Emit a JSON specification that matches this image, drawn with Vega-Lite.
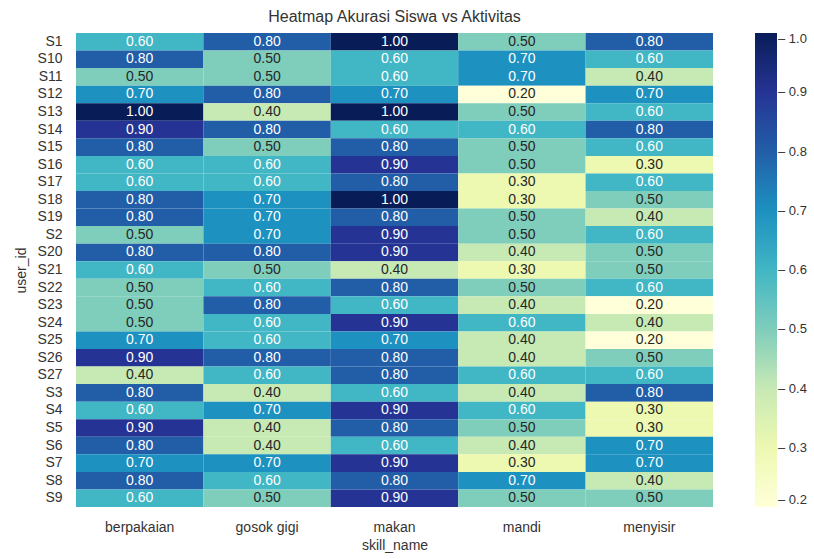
{
  "$schema": "https://vega.github.io/schema/vega-lite/v6.json",
  "width": 637,
  "height": 474,
  "autosize": {"type": "none"},
  "padding": {"left": 76, "top": 33, "right": 101, "bottom": 52},
  "background": "white",
  "title": {
    "text": "Heatmap Akurasi Siswa vs Aktivitas",
    "font": "Liberation Sans",
    "fontSize": 16,
    "fontWeight": "normal",
    "color": "#333333",
    "offset": 8
  },
  "config": {
    "view": {"stroke": null},
    "font": "Liberation Sans"
  },
  "data": {
    "values": [
      {"user_id": "S1", "skill_name": "berpakaian", "accuracy": 0.6},
      {"user_id": "S1", "skill_name": "gosok gigi", "accuracy": 0.8},
      {"user_id": "S1", "skill_name": "makan", "accuracy": 1.0},
      {"user_id": "S1", "skill_name": "mandi", "accuracy": 0.5},
      {"user_id": "S1", "skill_name": "menyisir", "accuracy": 0.8},
      {"user_id": "S10", "skill_name": "berpakaian", "accuracy": 0.8},
      {"user_id": "S10", "skill_name": "gosok gigi", "accuracy": 0.5},
      {"user_id": "S10", "skill_name": "makan", "accuracy": 0.6},
      {"user_id": "S10", "skill_name": "mandi", "accuracy": 0.7},
      {"user_id": "S10", "skill_name": "menyisir", "accuracy": 0.6},
      {"user_id": "S11", "skill_name": "berpakaian", "accuracy": 0.5},
      {"user_id": "S11", "skill_name": "gosok gigi", "accuracy": 0.5},
      {"user_id": "S11", "skill_name": "makan", "accuracy": 0.6},
      {"user_id": "S11", "skill_name": "mandi", "accuracy": 0.7},
      {"user_id": "S11", "skill_name": "menyisir", "accuracy": 0.4},
      {"user_id": "S12", "skill_name": "berpakaian", "accuracy": 0.7},
      {"user_id": "S12", "skill_name": "gosok gigi", "accuracy": 0.8},
      {"user_id": "S12", "skill_name": "makan", "accuracy": 0.7},
      {"user_id": "S12", "skill_name": "mandi", "accuracy": 0.2},
      {"user_id": "S12", "skill_name": "menyisir", "accuracy": 0.7},
      {"user_id": "S13", "skill_name": "berpakaian", "accuracy": 1.0},
      {"user_id": "S13", "skill_name": "gosok gigi", "accuracy": 0.4},
      {"user_id": "S13", "skill_name": "makan", "accuracy": 1.0},
      {"user_id": "S13", "skill_name": "mandi", "accuracy": 0.5},
      {"user_id": "S13", "skill_name": "menyisir", "accuracy": 0.6},
      {"user_id": "S14", "skill_name": "berpakaian", "accuracy": 0.9},
      {"user_id": "S14", "skill_name": "gosok gigi", "accuracy": 0.8},
      {"user_id": "S14", "skill_name": "makan", "accuracy": 0.6},
      {"user_id": "S14", "skill_name": "mandi", "accuracy": 0.6},
      {"user_id": "S14", "skill_name": "menyisir", "accuracy": 0.8},
      {"user_id": "S15", "skill_name": "berpakaian", "accuracy": 0.8},
      {"user_id": "S15", "skill_name": "gosok gigi", "accuracy": 0.5},
      {"user_id": "S15", "skill_name": "makan", "accuracy": 0.8},
      {"user_id": "S15", "skill_name": "mandi", "accuracy": 0.5},
      {"user_id": "S15", "skill_name": "menyisir", "accuracy": 0.6},
      {"user_id": "S16", "skill_name": "berpakaian", "accuracy": 0.6},
      {"user_id": "S16", "skill_name": "gosok gigi", "accuracy": 0.6},
      {"user_id": "S16", "skill_name": "makan", "accuracy": 0.9},
      {"user_id": "S16", "skill_name": "mandi", "accuracy": 0.5},
      {"user_id": "S16", "skill_name": "menyisir", "accuracy": 0.3},
      {"user_id": "S17", "skill_name": "berpakaian", "accuracy": 0.6},
      {"user_id": "S17", "skill_name": "gosok gigi", "accuracy": 0.6},
      {"user_id": "S17", "skill_name": "makan", "accuracy": 0.8},
      {"user_id": "S17", "skill_name": "mandi", "accuracy": 0.3},
      {"user_id": "S17", "skill_name": "menyisir", "accuracy": 0.6},
      {"user_id": "S18", "skill_name": "berpakaian", "accuracy": 0.8},
      {"user_id": "S18", "skill_name": "gosok gigi", "accuracy": 0.7},
      {"user_id": "S18", "skill_name": "makan", "accuracy": 1.0},
      {"user_id": "S18", "skill_name": "mandi", "accuracy": 0.3},
      {"user_id": "S18", "skill_name": "menyisir", "accuracy": 0.5},
      {"user_id": "S19", "skill_name": "berpakaian", "accuracy": 0.8},
      {"user_id": "S19", "skill_name": "gosok gigi", "accuracy": 0.7},
      {"user_id": "S19", "skill_name": "makan", "accuracy": 0.8},
      {"user_id": "S19", "skill_name": "mandi", "accuracy": 0.5},
      {"user_id": "S19", "skill_name": "menyisir", "accuracy": 0.4},
      {"user_id": "S2", "skill_name": "berpakaian", "accuracy": 0.5},
      {"user_id": "S2", "skill_name": "gosok gigi", "accuracy": 0.7},
      {"user_id": "S2", "skill_name": "makan", "accuracy": 0.9},
      {"user_id": "S2", "skill_name": "mandi", "accuracy": 0.5},
      {"user_id": "S2", "skill_name": "menyisir", "accuracy": 0.6},
      {"user_id": "S20", "skill_name": "berpakaian", "accuracy": 0.8},
      {"user_id": "S20", "skill_name": "gosok gigi", "accuracy": 0.8},
      {"user_id": "S20", "skill_name": "makan", "accuracy": 0.9},
      {"user_id": "S20", "skill_name": "mandi", "accuracy": 0.4},
      {"user_id": "S20", "skill_name": "menyisir", "accuracy": 0.5},
      {"user_id": "S21", "skill_name": "berpakaian", "accuracy": 0.6},
      {"user_id": "S21", "skill_name": "gosok gigi", "accuracy": 0.5},
      {"user_id": "S21", "skill_name": "makan", "accuracy": 0.4},
      {"user_id": "S21", "skill_name": "mandi", "accuracy": 0.3},
      {"user_id": "S21", "skill_name": "menyisir", "accuracy": 0.5},
      {"user_id": "S22", "skill_name": "berpakaian", "accuracy": 0.5},
      {"user_id": "S22", "skill_name": "gosok gigi", "accuracy": 0.6},
      {"user_id": "S22", "skill_name": "makan", "accuracy": 0.8},
      {"user_id": "S22", "skill_name": "mandi", "accuracy": 0.5},
      {"user_id": "S22", "skill_name": "menyisir", "accuracy": 0.6},
      {"user_id": "S23", "skill_name": "berpakaian", "accuracy": 0.5},
      {"user_id": "S23", "skill_name": "gosok gigi", "accuracy": 0.8},
      {"user_id": "S23", "skill_name": "makan", "accuracy": 0.6},
      {"user_id": "S23", "skill_name": "mandi", "accuracy": 0.4},
      {"user_id": "S23", "skill_name": "menyisir", "accuracy": 0.2},
      {"user_id": "S24", "skill_name": "berpakaian", "accuracy": 0.5},
      {"user_id": "S24", "skill_name": "gosok gigi", "accuracy": 0.6},
      {"user_id": "S24", "skill_name": "makan", "accuracy": 0.9},
      {"user_id": "S24", "skill_name": "mandi", "accuracy": 0.6},
      {"user_id": "S24", "skill_name": "menyisir", "accuracy": 0.4},
      {"user_id": "S25", "skill_name": "berpakaian", "accuracy": 0.7},
      {"user_id": "S25", "skill_name": "gosok gigi", "accuracy": 0.6},
      {"user_id": "S25", "skill_name": "makan", "accuracy": 0.7},
      {"user_id": "S25", "skill_name": "mandi", "accuracy": 0.4},
      {"user_id": "S25", "skill_name": "menyisir", "accuracy": 0.2},
      {"user_id": "S26", "skill_name": "berpakaian", "accuracy": 0.9},
      {"user_id": "S26", "skill_name": "gosok gigi", "accuracy": 0.8},
      {"user_id": "S26", "skill_name": "makan", "accuracy": 0.8},
      {"user_id": "S26", "skill_name": "mandi", "accuracy": 0.4},
      {"user_id": "S26", "skill_name": "menyisir", "accuracy": 0.5},
      {"user_id": "S27", "skill_name": "berpakaian", "accuracy": 0.4},
      {"user_id": "S27", "skill_name": "gosok gigi", "accuracy": 0.6},
      {"user_id": "S27", "skill_name": "makan", "accuracy": 0.8},
      {"user_id": "S27", "skill_name": "mandi", "accuracy": 0.6},
      {"user_id": "S27", "skill_name": "menyisir", "accuracy": 0.6},
      {"user_id": "S3", "skill_name": "berpakaian", "accuracy": 0.8},
      {"user_id": "S3", "skill_name": "gosok gigi", "accuracy": 0.4},
      {"user_id": "S3", "skill_name": "makan", "accuracy": 0.6},
      {"user_id": "S3", "skill_name": "mandi", "accuracy": 0.4},
      {"user_id": "S3", "skill_name": "menyisir", "accuracy": 0.8},
      {"user_id": "S4", "skill_name": "berpakaian", "accuracy": 0.6},
      {"user_id": "S4", "skill_name": "gosok gigi", "accuracy": 0.7},
      {"user_id": "S4", "skill_name": "makan", "accuracy": 0.9},
      {"user_id": "S4", "skill_name": "mandi", "accuracy": 0.6},
      {"user_id": "S4", "skill_name": "menyisir", "accuracy": 0.3},
      {"user_id": "S5", "skill_name": "berpakaian", "accuracy": 0.9},
      {"user_id": "S5", "skill_name": "gosok gigi", "accuracy": 0.4},
      {"user_id": "S5", "skill_name": "makan", "accuracy": 0.8},
      {"user_id": "S5", "skill_name": "mandi", "accuracy": 0.5},
      {"user_id": "S5", "skill_name": "menyisir", "accuracy": 0.3},
      {"user_id": "S6", "skill_name": "berpakaian", "accuracy": 0.8},
      {"user_id": "S6", "skill_name": "gosok gigi", "accuracy": 0.4},
      {"user_id": "S6", "skill_name": "makan", "accuracy": 0.6},
      {"user_id": "S6", "skill_name": "mandi", "accuracy": 0.4},
      {"user_id": "S6", "skill_name": "menyisir", "accuracy": 0.7},
      {"user_id": "S7", "skill_name": "berpakaian", "accuracy": 0.7},
      {"user_id": "S7", "skill_name": "gosok gigi", "accuracy": 0.7},
      {"user_id": "S7", "skill_name": "makan", "accuracy": 0.9},
      {"user_id": "S7", "skill_name": "mandi", "accuracy": 0.3},
      {"user_id": "S7", "skill_name": "menyisir", "accuracy": 0.7},
      {"user_id": "S8", "skill_name": "berpakaian", "accuracy": 0.8},
      {"user_id": "S8", "skill_name": "gosok gigi", "accuracy": 0.6},
      {"user_id": "S8", "skill_name": "makan", "accuracy": 0.8},
      {"user_id": "S8", "skill_name": "mandi", "accuracy": 0.7},
      {"user_id": "S8", "skill_name": "menyisir", "accuracy": 0.4},
      {"user_id": "S9", "skill_name": "berpakaian", "accuracy": 0.6},
      {"user_id": "S9", "skill_name": "gosok gigi", "accuracy": 0.5},
      {"user_id": "S9", "skill_name": "makan", "accuracy": 0.9},
      {"user_id": "S9", "skill_name": "mandi", "accuracy": 0.5},
      {"user_id": "S9", "skill_name": "menyisir", "accuracy": 0.5}
    ]
  },
  "encoding": {
    "x": {
      "field": "skill_name",
      "type": "nominal",
      "sort": ["berpakaian", "gosok gigi", "makan", "mandi", "menyisir"],
      "scale": {"paddingInner": 0, "paddingOuter": 0},
      "axis": {
        "title": "skill_name",
        "titleFont": "Liberation Sans",
        "titleFontSize": 14,
        "titleFontWeight": "normal",
        "titleColor": "#333333",
        "titlePadding": 4,
        "labelFont": "Liberation Sans",
        "labelFontSize": 14,
        "labelColor": "#333333",
        "labelAngle": 0,
        "labelPadding": 13,
        "ticks": false,
        "domain": false,
        "grid": false
      }
    },
    "y": {
      "field": "user_id",
      "type": "nominal",
      "sort": ["S1", "S10", "S11", "S12", "S13", "S14", "S15", "S16", "S17", "S18", "S19", "S2", "S20", "S21", "S22", "S23", "S24", "S25", "S26", "S27", "S3", "S4", "S5", "S6", "S7", "S8", "S9"],
      "scale": {"paddingInner": 0, "paddingOuter": 0},
      "axis": {
        "title": "user_id",
        "titleFont": "Liberation Sans",
        "titleFontSize": 14,
        "titleFontWeight": "normal",
        "titleColor": "#333333",
        "titlePadding": 9,
        "labelFont": "Liberation Sans",
        "labelFontSize": 14,
        "labelColor": "#333333",
        "labelPadding": 14,
        "ticks": false,
        "domain": false,
        "grid": false
      }
    }
  },
  "layer": [
    {
      "mark": {"type": "rect"},
      "encoding": {
        "color": {
          "field": "accuracy",
          "type": "quantitative",
          "scale": {
            "domain": [0.2, 0.3, 0.4, 0.5, 0.6, 0.7, 0.8, 0.9, 1.0],
            "range": ["#ffffd9", "#edf8b1", "#c7e9b4", "#7fcdbb", "#41b6c4", "#1d91c0", "#225ea8", "#253494", "#081d58"],
            "interpolate": "rgb"
          },
          "legend": {
            "title": null,
            "orient": "none",
            "legendX": 679,
            "legendY": 0,
            "direction": "vertical",
            "gradientLength": 474,
            "gradientThickness": 22,
            "gradientStrokeWidth": 0,
            "values": [0.2, 0.3, 0.4, 0.5, 0.6, 0.7, 0.8, 0.9, 1.0],
            "labelExpr": "'– ' + format(datum.value, '.1f')",
            "labelFont": "Liberation Sans",
            "labelFontSize": 13,
            "labelColor": "#333333",
            "labelOffset": 1
          }
        }
      }
    },
    {
      "mark": {"type": "text", "font": "Liberation Sans", "fontSize": 14},
      "encoding": {
        "text": {"field": "accuracy", "type": "quantitative", "format": ".2f"},
        "color": {
          "condition": {"test": "datum.accuracy >= 0.6", "value": "#ffffff"},
          "value": "#262626"
        }
      }
    }
  ]
}
